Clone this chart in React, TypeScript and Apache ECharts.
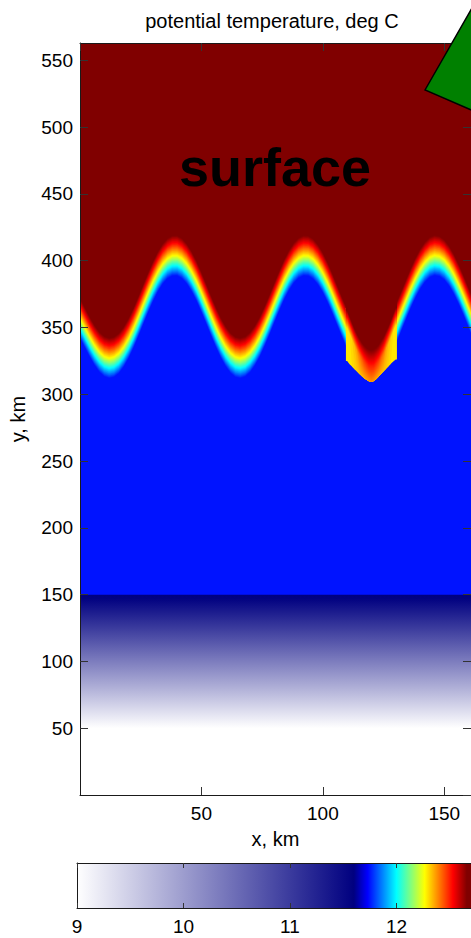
import React, { useEffect, useRef } from 'react';
import * as echarts from 'echarts';

// ---- axes ----
const xRange = [0, 161];
const yRange = [0, 563];
const cbarRange = [9, 12.7];

// ---- colormap (value -> colour) ----
const cmapValues = [9, 11.6, 11.73, 12.0, 12.265, 12.53, 12.66, 12.7];
const cmapColors = ['#ffffff', '#000080', '#0000ff', '#00ffff', '#ffff00', '#ff0000', '#800000', '#800000'];

// ---- lower (deep) layer: value vs height, km ----
const lowerY = [0, 50, 75, 100, 125, 147, 150];
const lowerV = [9, 9, 9.67, 10.33, 11.0, 11.58, 11.6];
const blueValue = 11.75;

// ---- front: centre height of the transition band along x (km) ----
const bandX = [0, 2, 4, 6, 8, 10, 12, 14, 16, 18, 20, 22, 24, 26, 28, 30, 32, 34, 36, 38, 40, 42, 44, 46, 48, 50, 52, 54, 56, 58, 60, 62, 64, 66, 68, 70, 72, 74, 76, 78, 80, 82, 84, 86, 88, 90, 92, 94, 96, 98, 100, 102, 104, 106, 108, 110, 112, 114, 116, 118, 120, 122, 124, 126, 128, 130, 132, 134, 136, 138, 140, 142, 144, 146, 148, 150, 152, 154, 156, 158, 160, 161];
const bandCenter = [357, 350, 343, 336.7, 331.6, 328.3, 327, 327.9, 330.7, 335.5, 341.9, 349.6, 358.2, 367.2, 376, 384.3, 391.6, 397.5, 401.6, 403.7, 403.8, 401.7, 397.7, 391.9, 384.8, 376.5, 367.7, 358.7, 350.1, 342.3, 335.8, 330.9, 327.9, 327, 328.2, 331.4, 336.4, 343, 350.9, 359.5, 368.5, 377.3, 385.6, 392.6, 398.2, 402, 403.8, 403.6, 401.3, 397, 391, 383.6, 375.2, 366.2, 357.3, 348.8, 341.2, 335, 330.4, 327.7, 327, 328.5, 332, 337.4, 344.2, 352.2, 361, 369.9, 378.7, 386.7, 393.6, 398.9, 402.5, 404, 403.3, 400.7, 396.1, 389.8, 382.2, 373.8, 364.8, 360.3];
// value across the band vs vertical offset from its centre (km)
const bandOffsets = [-15, -7.5, 0, 9.5, 15];
const bandValues = [11.75, 12.0, 12.265, 12.53, 12.66];
const topValue = 12.66;

// ---- detached deep trough near x = 120 km (walls at 109.5 and 130.5 km) ----
const deepWalls = [109.5, 130.5];
const deepX = [110, 111, 112, 113, 114, 115, 116, 117, 118, 119, 120, 121, 122, 123, 124, 125, 126, 127, 128, 129, 130];
const deepBottom = [325, 322.5, 320.8, 319, 317.2, 315.3, 313.7, 312, 310.8, 309.8, 309.4, 310, 311.5, 313.3, 315.3, 317.3, 319.2, 321, 322.8, 324.5, 326];
const deepBottomV = [12.29, 12.29, 12.3, 12.31, 12.32, 12.33, 12.34, 12.35, 12.36, 12.37, 12.38, 12.37, 12.36, 12.35, 12.34, 12.33, 12.32, 12.31, 12.3, 12.29, 12.29];
const deepKnee = [350, 345.5, 341, 336.7, 332.8, 329.5, 326.7, 324.4, 322.6, 321.5, 321.2, 321.6, 322.9, 324.7, 327.5, 330.3, 334.1, 337.9, 342.3, 347.4, 352];
const deepKneeV = [12.3, 12.3, 12.31, 12.33, 12.36, 12.4, 12.43, 12.46, 12.48, 12.5, 12.5, 12.5, 12.48, 12.46, 12.43, 12.4, 12.36, 12.33, 12.31, 12.3, 12.3];
const deepTop = [363, 358.5, 354, 349.5, 345.5, 342, 339, 336.5, 334.5, 333.3, 333, 333.5, 335, 337, 340, 343, 347, 351, 355.5, 360.5, 365];

const FONT = '"Liberation Sans", Arial, Helvetica, sans-serif';

function hexToRgb(h: string) {
  const n = parseInt(h.slice(1), 16);
  return [(n >> 16) & 255, (n >> 8) & 255, n & 255];
}

function lerpTable(xs: number[], ys: number[], x: number) {
  if (x <= xs[0]) return ys[0];
  if (x >= xs[xs.length - 1]) return ys[ys.length - 1];
  for (let i = 0; i < xs.length - 1; i++) {
    if (x >= xs[i] && x <= xs[i + 1]) {
      const t = (x - xs[i]) / (xs[i + 1] - xs[i]);
      return ys[i] + t * (ys[i + 1] - ys[i]);
    }
  }
  return ys[ys.length - 1];
}

function colorAt(v: number) {
  const vs = cmapValues;
  if (v <= vs[0]) return cmapColors[0];
  if (v >= vs[vs.length - 1]) return cmapColors[cmapColors.length - 1];
  for (let i = 0; i < vs.length - 1; i++) {
    if (v >= vs[i] && v <= vs[i + 1]) {
      const t = (v - vs[i]) / (vs[i + 1] - vs[i]);
      const a = hexToRgb(cmapColors[i]);
      const b = hexToRgb(cmapColors[i + 1]);
      const c = a.map((ai, k) => Math.round(ai + t * (b[k] - ai)));
      return `rgb(${c[0]},${c[1]},${c[2]})`;
    }
  }
  return cmapColors[cmapColors.length - 1];
}

// height (km) in deep column i at which the value reaches v
function deepHeightOf(i: number, v: number) {
  const hs = [deepBottom[i], deepKnee[i], deepTop[i]];
  const vs = [deepBottomV[i], deepKneeV[i], topValue];
  if (v <= vs[0]) return hs[0];
  if (v >= vs[2]) return hs[2];
  for (let k = 0; k < 2; k++) {
    if (v >= vs[k] && v <= vs[k + 1]) {
      const t = vs[k + 1] === vs[k] ? 0 : (v - vs[k]) / (vs[k + 1] - vs[k]);
      return hs[k] + t * (hs[k + 1] - hs[k]);
    }
  }
  return hs[2];
}

const LAYER_STEP = 0.5;
const layerOffsets: number[] = [];
for (let o = bandOffsets[0]; o <= bandOffsets[bandOffsets.length - 1] + 1e-9; o += LAYER_STEP) layerOffsets.push(o);

const DEEP_STEP = 0.01;
const deepLevels: number[] = [];
for (let v = Math.min(...deepBottomV); v < topValue - 1e-9; v += DEEP_STEP) deepLevels.push(v);
deepLevels.push(topValue);

function buildOption() {
  const axisLineStyle = { color: '#1a1a1a', width: 1 };
  const tickStyle = { color: '#333', width: 1 };
  const labelStyle = { fontSize: 19, color: '#000', fontFamily: FONT };

  const blueSeries = {
    type: 'custom', xAxisIndex: 0, yAxisIndex: 0, silent: true,
    data: [[xRange[0], lowerY[lowerY.length - 1]]],
    renderItem: (_p: any, api: any) => {
      const p0 = api.coord([xRange[0], lowerY[lowerY.length - 1] - 2]);
      const p1 = api.coord([xRange[1], yRange[1]]);
      return {
        type: 'rect',
        shape: { x: p0[0], y: p1[1], width: p1[0] - p0[0], height: p0[1] - p1[1] },
        style: { fill: colorAt(blueValue) },
      };
    },
  };

  const lowerSeries = {
    type: 'custom', xAxisIndex: 0, yAxisIndex: 0, silent: true,
    data: [[xRange[0], lowerY[0]]],
    renderItem: (_p: any, api: any) => {
      const y0 = lowerY[0];
      const y1 = lowerY[lowerY.length - 1];
      const p0 = api.coord([xRange[0], y0]);
      const p1 = api.coord([xRange[1], y1]);
      return {
        type: 'rect',
        shape: { x: p0[0], y: p1[1], width: p1[0] - p0[0], height: p0[1] - p1[1] },
        style: {
          fill: {
            type: 'linear', x: 0, y: 1, x2: 0, y2: 0,
            colorStops: lowerY.map((y, i) => ({ offset: (y - y0) / (y1 - y0), color: colorAt(lowerV[i]) })),
          },
        },
      };
    },
  };

  const bandSeries = {
    type: 'custom', xAxisIndex: 0, yAxisIndex: 0, silent: true,
    data: layerOffsets.map((o) => [xRange[0], o]),
    renderItem: (params: any, api: any) => {
      const o = layerOffsets[params.dataIndex];
      const isLast = params.dataIndex === layerOffsets.length - 1;
      const v = isLast ? topValue : lerpTable(bandOffsets, bandValues, o + LAYER_STEP / 2);
      const pts = bandX.map((x, i) => api.coord([x, bandCenter[i] + o]));
      pts.push(api.coord([bandX[bandX.length - 1], yRange[1]]));
      pts.push(api.coord([bandX[0], yRange[1]]));
      return { type: 'polygon', shape: { points: pts }, style: { fill: colorAt(v) } };
    },
  };

  // detached trough: stacked iso-value layers, each from its level up to just above the
  // trough's dark-red boundary (the last, dark-red layer goes up to the plot top)
  const deepSeries = {
    type: 'custom', xAxisIndex: 0, yAxisIndex: 0, silent: true,
    data: deepLevels.map((v) => [deepX[0], v]),
    renderItem: (params: any, api: any) => {
      const k = params.dataIndex;
      const v = deepLevels[k];
      const isLast = k === deepLevels.length - 1;
      const fillV = isLast ? topValue : k === 0 ? v : Math.min(topValue, v + DEEP_STEP / 2);
      const hs = deepX.map((_x, i) => deepHeightOf(i, v));
      const upper = deepX.map((_x, i) => (isLast ? yRange[1] : deepTop[i] + 1.5));
      const pts: number[][] = [];
      pts.push(api.coord([deepWalls[0], hs[0]]));
      deepX.forEach((x, i) => pts.push(api.coord([x, hs[i]])));
      pts.push(api.coord([deepWalls[1], hs[hs.length - 1]]));
      pts.push(api.coord([deepWalls[1], upper[upper.length - 1]]));
      for (let i = deepX.length - 1; i >= 0; i--) pts.push(api.coord([deepX[i], upper[i]]));
      pts.push(api.coord([deepWalls[0], upper[0]]));
      return { type: 'polygon', shape: { points: pts }, style: { fill: colorAt(fillV) } };
    },
  };

  const cbarSeries = {
    type: 'custom', xAxisIndex: 2, yAxisIndex: 2, silent: true,
    data: [[cbarRange[0], 0]],
    renderItem: (_p: any, api: any) => {
      const p0 = api.coord([cbarRange[0], 0]);
      const p1 = api.coord([cbarRange[1], 1]);
      const span = cbarRange[1] - cbarRange[0];
      return {
        type: 'rect',
        shape: { x: p0[0], y: p1[1], width: p1[0] - p0[0], height: p0[1] - p1[1] },
        style: {
          fill: {
            type: 'linear', x: 0, y: 0, x2: 1, y2: 0,
            colorStops: cmapValues.map((v, i) => ({ offset: (v - cbarRange[0]) / span, color: cmapColors[i] })),
          },
        },
      };
    },
  };

  const frameAxis = (extra: any) => ({
    type: 'value', z: 10,
    axisLine: { show: true, onZero: false, lineStyle: axisLineStyle },
    splitLine: { show: false },
    ...extra,
  });

  return {
    animation: false,
    backgroundColor: '#ffffff',
    textStyle: { fontFamily: FONT },
    grid: [
      { left: 77, top: 43, width: 395, height: 752 },
      { left: 77, top: 863, width: 395, height: 45 },
    ],
    xAxis: [
      frameAxis({
        gridIndex: 0, min: xRange[0], max: xRange[1], interval: 50, position: 'bottom',
        axisTick: { show: true, inside: true, length: 8, lineStyle: tickStyle },
        axisLabel: { ...labelStyle, margin: 9, showMinLabel: false, showMaxLabel: false },
        name: 'x, km', nameLocation: 'middle', nameGap: 34,
        nameTextStyle: { fontSize: 20, color: '#000', fontFamily: FONT },
      }),
      frameAxis({
        gridIndex: 0, min: xRange[0], max: xRange[1], interval: 50, position: 'top',
        axisTick: { show: true, inside: true, length: 8, lineStyle: tickStyle },
        axisLabel: { show: false },
      }),
      frameAxis({
        gridIndex: 1, min: cbarRange[0], max: cbarRange[1], interval: 1, position: 'bottom',
        axisTick: { show: true, inside: true, length: 5, lineStyle: tickStyle },
        axisLabel: { ...labelStyle, margin: 9, showMinLabel: true, showMaxLabel: false },
      }),
      frameAxis({
        gridIndex: 1, min: cbarRange[0], max: cbarRange[1], interval: 1, position: 'top',
        axisTick: { show: true, inside: true, length: 5, lineStyle: tickStyle },
        axisLabel: { show: false },
      }),
    ],
    yAxis: [
      frameAxis({
        gridIndex: 0, min: yRange[0], max: yRange[1], interval: 50, position: 'left',
        axisTick: { show: true, inside: true, length: 8, lineStyle: tickStyle },
        axisLabel: { ...labelStyle, margin: 7, showMinLabel: false, showMaxLabel: false },
        name: 'y, km', nameLocation: 'middle', nameGap: 52, nameRotate: 90,
        nameTextStyle: { fontSize: 20, color: '#000', fontFamily: FONT },
      }),
      frameAxis({
        gridIndex: 0, min: yRange[0], max: yRange[1], interval: 50, position: 'right',
        axisTick: { show: true, inside: true, length: 8, lineStyle: tickStyle },
        axisLabel: { show: false },
      }),
      frameAxis({
        gridIndex: 1, min: 0, max: 1, position: 'left',
        axisTick: { show: false }, axisLabel: { show: false },
      }),
      frameAxis({
        gridIndex: 1, min: 0, max: 1, position: 'right',
        axisTick: { show: false }, axisLabel: { show: false },
      }),
    ],
    graphic: [
      {
        type: 'text', x: 272, y: 21, z: 50,
        style: {
          text: 'potential temperature, deg C', fontSize: 20, fontFamily: FONT, fill: '#000',
          textAlign: 'center', textVerticalAlign: 'middle', align: 'center', verticalAlign: 'middle',
        },
      },
      {
        type: 'text', x: 275, y: 167, z: 50,
        style: {
          text: 'surface', fontSize: 54, fontWeight: 'bold', fontFamily: FONT, fill: '#000',
          textAlign: 'center', textVerticalAlign: 'middle', align: 'center', verticalAlign: 'middle',
        },
      },
      {
        type: 'polygon', z: 60,
        shape: { points: [[425, 90], [476, 1], [476, 112]] },
        style: { fill: '#008000', stroke: '#000', lineWidth: 1.5 },
      },
    ],
    series: [blueSeries, lowerSeries, bandSeries, deepSeries, cbarSeries],
  };
}

export default function App() {
  const ref = useRef<HTMLDivElement>(null);
  useEffect(() => {
    if (!ref.current) return;
    const chart = echarts.init(ref.current, null, { renderer: 'svg' });
    chart.setOption(buildOption() as any);
    return () => chart.dispose();
  }, []);
  return (
    <div
      ref={ref}
      style={{ position: 'absolute', left: 0, top: 0, width: 471, height: 938, background: '#fff' }}
    />
  );
}
